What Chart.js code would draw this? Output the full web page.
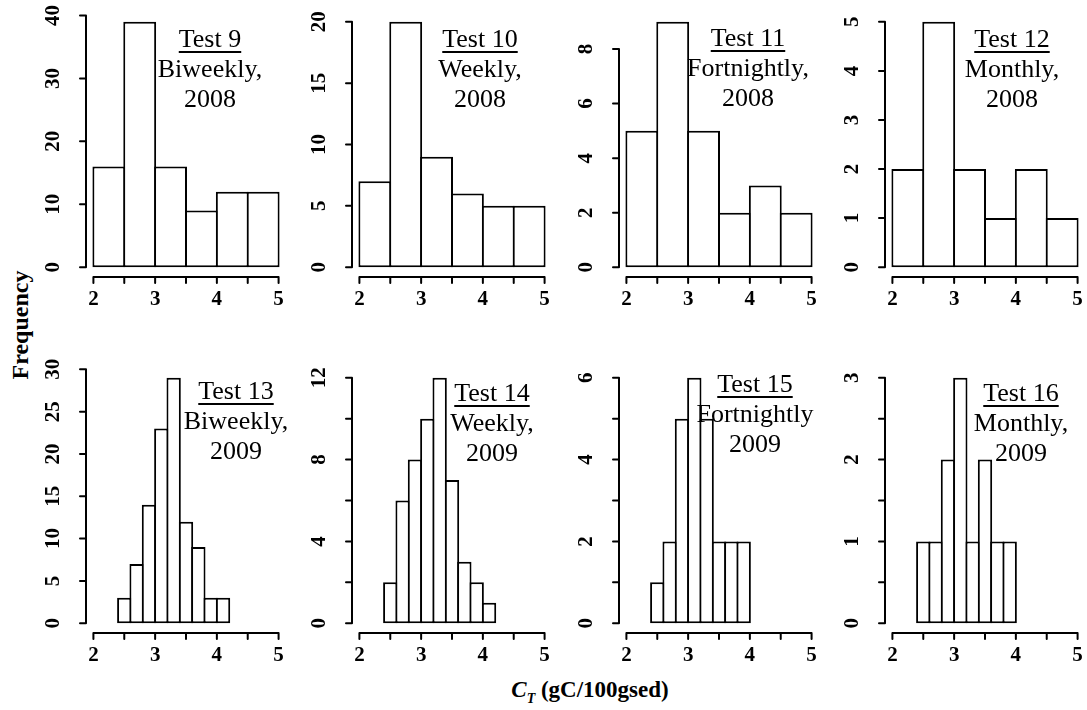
<!DOCTYPE html>
<html>
<head>
<meta charset="utf-8">
<title>C_T frequency histograms, tests 9-16</title>
<script src="https://cdn.jsdelivr.net/npm/chart.js@4.4.1/dist/chart.umd.min.js"></script>
<style>
  html, body { margin: 0; padding: 0; background: #fff; }
  #figure {
    position: relative; width: 1087px; height: 710px; overflow: hidden;
    font-family: "Liberation Serif", "Times New Roman", serif; color: #000;
  }
  #figure canvas { position: absolute; }
  .note {
    position: absolute; width: 180px; margin-left: -90px; text-align: center;
    font-size: 26px; line-height: 30px; white-space: nowrap;
  }
  .note .head {
    text-decoration: underline; text-decoration-thickness: 2px; text-underline-offset: 4px;
  }
  .axis-title {
    position: absolute; font-weight: bold; font-size: 23px; white-space: nowrap;
    transform: translate(-50%, -50%);
  }
  .axis-title sub { font-size: 14px; }
</style>
</head>
<body>
<div id="figure">
  <div class="axis-title" style="left:20px; top:325px; font-size:24px; transform: translate(-50%, -50%) rotate(-90deg);">Frequency</div>
  <div class="axis-title" style="left:590px; top:692px;"><i>C<sub>T</sub></i> (gC/100gsed)</div>
</div>

<script>
// bin edges, gC/100gsed
const edges2008 = [2.0, 2.5, 3.0, 3.5, 4.0, 4.5, 5.0];
const edges2009 = [2.4, 2.6, 2.8, 3.0, 3.2, 3.4, 3.6, 3.8, 4.0, 4.2];
const edges2009short = [2.4, 2.6, 2.8, 3.0, 3.2, 3.4, 3.6, 3.8, 4.0];

// counts per bin
const test9 = [16, 39, 16, 9, 12, 12];
const test10 = [7, 20, 9, 6, 5, 5];
const test11 = [5, 9, 5, 2, 3, 2];
const test12 = [2, 5, 2, 1, 2, 1];
const test13 = [3, 7, 14, 23, 29, 12, 9, 3, 3];
const test14 = [2, 6, 8, 10, 12, 7, 3, 2, 1];
const test15 = [1, 2, 5, 6, 5, 2, 2, 2];
const test16 = [1, 1, 2, 3, 1, 2, 1, 1];

// axis ticks
const xTicks = [2, 2.5, 3, 3.5, 4, 4.5, 5];
const xTickLabels = ['2', '', '3', '', '4', '', '5'];
const yTicks9 = [0, 10, 20, 30, 40];
const yTicks10 = [0, 5, 10, 15, 20];
const yTicks11 = [0, 2, 4, 6, 8];
const yTicks12 = [0, 1, 2, 3, 4, 5];
const yTicks13 = [0, 5, 10, 15, 20, 25, 30];
const yTicks14 = [0, 2, 4, 6, 8, 10, 12];
const yLabels14 = ['0', '', '4', '', '8', '', '12'];
const yTicks15 = [0, 1, 2, 3, 4, 5, 6];
const yLabels15 = ['0', '', '2', '', '4', '', '6'];
const yTicks16 = [0, 0.5, 1, 1.5, 2, 2.5, 3];
const yLabels16 = ['0', '', '1', '', '2', '', '3'];

// panel captions
const notes9 = ['Test 9', 'Biweekly,', '2008'];
const notes10 = ['Test 10', 'Weekly,', '2008'];
const notes11 = ['Test 11', 'Fortnightly,', '2008'];
const notes12 = ['Test 12', 'Monthly,', '2008'];
const notes13 = ['Test 13', 'Biweekly,', '2009'];
const notes14 = ['Test 14', 'Weekly,', '2009'];
const notes15 = ['Test 15', 'Fortnightly', '2009'];
const notes16 = ['Test 16', 'Monthly,', '2009'];

const panels = [
    { counts: test9, edges: edges2008, yTicks: yTicks9, yLabels: yTicks9.map(String), notes: notes9 },
    { counts: test10, edges: edges2008, yTicks: yTicks10, yLabels: yTicks10.map(String), notes: notes10 },
    { counts: test11, edges: edges2008, yTicks: yTicks11, yLabels: yTicks11.map(String), notes: notes11 },
    { counts: test12, edges: edges2008, yTicks: yTicks12, yLabels: yTicks12.map(String), notes: notes12 },
    { counts: test13, edges: edges2009, yTicks: yTicks13, yLabels: yTicks13.map(String), notes: notes13 },
    { counts: test14, edges: edges2009, yTicks: yTicks14, yLabels: yLabels14, notes: notes14 },
    { counts: test15, edges: edges2009short, yTicks: yTicks15, yLabels: yLabels15, notes: notes15 },
    { counts: test16, edges: edges2009short, yTicks: yTicks16, yLabels: yLabels16, notes: notes16 }
];

// layout (px)
const PLOT_W = 200, PLOT_H = 265;
const PAD_L = 70, PAD_R = 2, PAD_T = 12, PAD_B = 43;
const colLeft = [86, 352, 619, 885];
const rowTop = [12, 368];
const notePos = [[210, 24], [480, 24], [748, 23], [1012, 24], [236, 376], [492, 378], [755, 369], [1021, 378]];

// plot region is the data range widened by 4% on each side, like base R graphics
const X_MIN = 2 - 0.04 * 3, X_MAX = 5 + 0.04 * 3;

const figure = document.getElementById('figure');

function rAxes(p) {
    return {
        id: 'rAxes',
        afterDraw(chart) {
            const { ctx, chartArea, scales: { x, y } } = chart;
            ctx.save();
            ctx.strokeStyle = '#000';
            ctx.fillStyle = '#000';
            ctx.lineWidth = 2;
            ctx.lineCap = 'round';
            ctx.font = 'bold 21px "Liberation Serif"';
            ctx.textAlign = 'center';
            ctx.textBaseline = 'middle';

            // x axis only spans the tick range
            const xb = chartArea.bottom;
            ctx.beginPath();
            ctx.moveTo(x.getPixelForValue(xTicks[0]), xb);
            ctx.lineTo(x.getPixelForValue(xTicks[xTicks.length - 1]), xb);
            xTicks.forEach(v => {
                const px = x.getPixelForValue(v);
                ctx.moveTo(px, xb);
                ctx.lineTo(px, xb + 6);
            });
            ctx.stroke();
            xTicks.forEach((v, k) => {
                if (xTickLabels[k]) ctx.fillText(xTickLabels[k], x.getPixelForValue(v), xb + 23);
            });

            // y axis, labels parallel to the axis
            const yl = chartArea.left;
            ctx.beginPath();
            ctx.moveTo(yl, y.getPixelForValue(p.yTicks[0]));
            ctx.lineTo(yl, y.getPixelForValue(p.yTicks[p.yTicks.length - 1]));
            p.yTicks.forEach(v => {
                const py = y.getPixelForValue(v);
                ctx.moveTo(yl, py);
                ctx.lineTo(yl - 6, py);
            });
            ctx.stroke();
            p.yTicks.forEach((v, k) => {
                if (!p.yLabels[k]) return;
                ctx.save();
                ctx.translate(yl - 32, y.getPixelForValue(v));
                ctx.rotate(-Math.PI / 2);
                ctx.fillText(p.yLabels[k], 0, 0);
                ctx.restore();
            });
            ctx.restore();
        }
    };
}

function drawPanel(p, i) {
    const col = i % 4, row = Math.floor(i / 4);
    const canvas = document.createElement('canvas');
    canvas.width = PAD_L + PLOT_W + PAD_R;
    canvas.height = PAD_T + PLOT_H + PAD_B;
    canvas.style.left = (colLeft[col] - PAD_L) + 'px';
    canvas.style.top = (rowTop[row] - PAD_T) + 'px';
    figure.appendChild(canvas);

    const peak = Math.max(...p.counts);
    const pxPerUnit = PLOT_W / (X_MAX - X_MIN);
    const binWidth = p.edges[1] - p.edges[0];
    const bars = p.counts.map((n, k) => ({ x: (p.edges[k] + p.edges[k + 1]) / 2, y: n }));

    new Chart(canvas, {
        type: 'bar',
        data: {
            datasets: [{
                data: bars,
                backgroundColor: '#ffffff',
                borderColor: '#000000',
                borderWidth: 2,
                borderSkipped: false,
                inflateAmount: 0,
                // neighbouring bars overlap by their border so shared edges stay 2px
                barThickness: binWidth * pxPerUnit + 2
            }]
        },
        options: {
            responsive: false,
            animation: false,
            events: [],
            devicePixelRatio: 1,
            layout: { padding: { left: PAD_L, right: PAD_R, top: PAD_T, bottom: PAD_B } },
            plugins: {
                legend: { display: false },
                tooltip: { enabled: false }
            },
            scales: {
                x: {
                    type: 'linear',
                    display: false,
                    offset: false,
                    min: X_MIN,
                    max: X_MAX,
                    ticks: { stepSize: 0.5, includeBounds: false }
                },
                y: {
                    type: 'linear',
                    display: false,
                    min: -0.04 * peak,
                    max: 1.04 * peak,
                    ticks: { includeBounds: false }
                }
            }
        },
        plugins: [rAxes(p)]
    });

    const note = document.createElement('div');
    note.className = 'note';
    note.style.left = notePos[i][0] + 'px';
    note.style.top = notePos[i][1] + 'px';
    p.notes.forEach((line, k) => {
        const span = document.createElement('div');
        if (k === 0) {
            const head = document.createElement('span');
            head.className = 'head';
            head.textContent = line;
            span.appendChild(head);
        } else {
            span.textContent = line;
        }
        note.appendChild(span);
    });
    figure.appendChild(note);
}

panels.forEach(drawPanel);
</script>
</body>
</html>
